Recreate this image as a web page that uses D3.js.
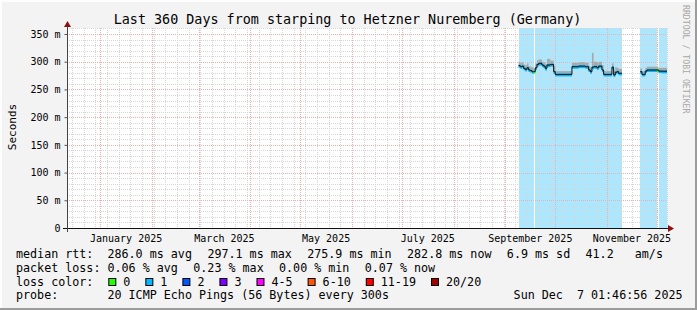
<!DOCTYPE html>
<html>
<head>
<meta charset="utf-8">
<script src="https://cdn.jsdelivr.net/npm/d3@7"></script>
<style>
  body { margin: 0; background: #f3f3f3; }
  svg { display: block; font-family: "DejaVu Sans Mono", monospace; }
  text { white-space: pre; }
</style>
</head>
<body>
<div id="chart"></div>
<script>
// samples: each value holds until the next date (null = no data)
const sampleDates = [
    "2025-09-09","2025-09-10","2025-09-11","2025-09-12","2025-09-13","2025-09-14","2025-09-15",
    "2025-09-16","2025-09-17","2025-09-18","2025-09-19","2025-09-20","2025-09-21","2025-09-23",
    "2025-09-24","2025-09-25","2025-09-26","2025-09-28","2025-09-30","2025-10-01","2025-10-11",
    "2025-10-15","2025-10-19","2025-10-21","2025-10-22","2025-10-23","2025-10-24","2025-10-26",
    "2025-10-27","2025-10-29","2025-10-30","2025-11-04","2025-11-05","2025-11-06","2025-11-07",
    "2025-11-08","2025-11-10","2025-11-21","2025-11-22","2025-11-24","2025-11-25","2025-12-01",
    "2025-12-02","2025-12-04"
];
const medianMs = [
    293,291,292,288,286,289,285,284,282,282,289,295,297,294,292,288,294,295,282,277,
    291,292,291,285,282,290,291,289,292,285,277,290,276,281,282,279,null,282,277,283,
    285,285,283,282.8
];
const smokeHighMs = [
    300,298,299,295,294,297,292,291,290,288,297,303,304,300,299,296,305,302,292,283,
    298,299,298,292,290,316,300,298,300,294,283,297,284,290,289,287,null,288,283,289,
    291,290,289,289
];
const smokeLowMs = [
    289,288,288,285,283,285,282,281,279,280,285,291,293,290,288,284,290,291,278,275,
    288,289,288,282,279,286,288,286,288,281,275,286,274,278,279,276,null,279,275,280,
    282,283,280,279
];
const lossPings = [
    1,1,1,1,1,1,1,1,1,0,1,1,1,1,1,1,1,1,1,1,
    1,1,1,1,1,1,1,1,1,1,1,1,1,1,1,1,null,1,1,1,
    1,0,1,1
];

const lossLabels = ["0", "1", "2", "3", "4-5", "6-10", "11-19", "20/20"];
const lossColors = ["#26ff00", "#00b8ff", "#0059ff", "#7e00ff", "#ff00ff", "#ff5500", "#ff0000", "#a10000"];

const yTickValues = [0, 50, 100, 150, 200, 250, 300, 350];

const rttStats = ["median rtt:  286.0 ms avg", "297.1 ms max", "275.9 ms min", "282.8 ms now", "6.9 ms sd", "41.2   am/s"];
const lossStats = ["packet loss: 0.06 % avg", "0.23 % max", "0.00 % min", "0.07 % now"];

const titleText = "Last 360 Days from starping to Hetzner Nuremberg (Germany)";
const probeText = "probe:       20 ICMP Echo Pings (56 Bytes) every 300s";
const stampText = "Sun Dec  7 01:46:56 2025";

const endTime = new Date(Date.UTC(2025, 11, 7, 0, 46, 56));
const startTime = d3.utcDay.offset(endTime, -360);

const width = 697, height = 310;
const plot = { left: 67, right: 667, top: 28, bottom: 228 };

const legendFont = 11.7;
const charW = legendFont * 0.602;
const itemGap = 15.3;

const parseDay = d3.utcParse("%Y-%m-%d");

const steps = sampleDates.map((d, i) => ({
    t0: parseDay(d),
    t1: i < sampleDates.length - 1 ? parseDay(sampleDates[i + 1]) : endTime,
    med: medianMs[i],
    lo: smokeLowMs[i],
    hi: smokeHighMs[i],
    loss: lossPings[i]
})).filter(d => d.med !== null);

const xScale = d3.scaleUtc()
    .domain([startTime, endTime])
    .range([plot.left, plot.right]);

const yScale = d3.scaleLinear()
    .domain([0, 360.8])
    .range([plot.bottom, plot.top]);

const svg = d3.select("#chart")
    .append("svg")
        .attr("width", width)
        .attr("height", height);

// frame
svg.append("rect")
    .attr("width", width)
    .attr("height", height)
    .attr("fill", "#f3f3f3");
svg.append("path")
    .attr("d", `M1,${height} V1 H${width}`)
    .attr("fill", "none")
    .attr("stroke", "#fdfdfd")
    .attr("stroke-width", 2);
svg.append("path")
    .attr("d", `M0,${height - 1} H${width - 1} V0`)
    .attr("fill", "none")
    .attr("stroke", "#9c9c9c")
    .attr("stroke-width", 2);

// plot area
svg.append("rect")
    .attr("x", plot.left)
    .attr("y", plot.top)
    .attr("width", plot.right - plot.left)
    .attr("height", plot.bottom - plot.top)
    .attr("fill", "white");

const inner = svg.append("g");

// loss background
inner.selectAll(".lossbg")
    .data(steps.filter(d => d.loss > 0))
    .join("rect")
        .attr("class", "lossbg")
        .attr("x", d => xScale(d.t0))
        .attr("y", plot.top)
        .attr("width", d => xScale(d.t1) - xScale(d.t0))
        .attr("height", plot.bottom - plot.top)
        .attr("fill", d => lossColors[d.loss])
        .attr("fill-opacity", 0.33)
        .attr("shape-rendering", "crispEdges");

// grid
const minorY = d3.range(10, 361, 10).filter(v => v % 50 !== 0);
const majorY = yTickValues.filter(v => v > 0);
const weeks = d3.utcSunday.range(startTime, endTime);
const months = d3.utcMonth.range(startTime, endTime);
const px = v => Math.round(v) + 0.5;

const drawHLines = (vals, color) => {
    inner.append("g")
        .selectAll("line")
        .data(vals)
        .join("line")
            .attr("x1", plot.left)
            .attr("x2", plot.right)
            .attr("y1", d => px(yScale(d)))
            .attr("y2", d => px(yScale(d)))
            .attr("stroke", color)
            .attr("stroke-dasharray", "1,1");
};
const drawVLines = (vals, color) => {
    inner.append("g")
        .selectAll("line")
        .data(vals)
        .join("line")
            .attr("x1", d => px(xScale(d)))
            .attr("x2", d => px(xScale(d)))
            .attr("y1", plot.top)
            .attr("y2", plot.bottom)
            .attr("stroke", color)
            .attr("stroke-dasharray", "1,1");
};
drawHLines(minorY, "#d6d6d6");
drawVLines(weeks, "#d6d6d6");
drawHLines(majorY, "#f4acac");
drawVLines(months, "#f4acac");

// smoke
inner.selectAll(".smoke")
    .data(steps)
    .join("rect")
        .attr("class", "smoke")
        .attr("x", d => xScale(d.t0))
        .attr("y", d => yScale(d.hi))
        .attr("width", d => xScale(d.t1) - xScale(d.t0))
        .attr("height", d => yScale(d.lo) - yScale(d.hi))
        .attr("fill", "#a9a9a9");

// median band coloured by loss
inner.selectAll(".medband")
    .data(steps)
    .join("rect")
        .attr("class", "medband")
        .attr("x", d => xScale(d.t0))
        .attr("y", d => yScale(d.med) - 1)
        .attr("width", d => xScale(d.t1) - xScale(d.t0))
        .attr("height", 3)
        .attr("fill", d => lossColors[d.loss]);

// median line, one path per contiguous run
const runs = [];
steps.forEach((d, i) => {
    if (i === 0 || +steps[i - 1].t1 !== +d.t0) runs.push([]);
    runs[runs.length - 1].push(d);
});
const medLine = d3.line()
    .x(d => xScale(d.t))
    .y(d => yScale(d.med))
    .curve(d3.curveStepAfter);

inner.selectAll(".medline")
    .data(runs)
    .join("path")
        .attr("class", "medline")
        .attr("d", run => medLine([
            ...run.map(d => ({ t: d.t0, med: d.med })),
            { t: run[run.length - 1].t1, med: run[run.length - 1].med }
        ]))
        .attr("fill", "none")
        .attr("stroke", "#111")
        .attr("stroke-width", 1);

// axes
const yAxis = d3.axisLeft(yScale)
    .tickValues(yTickValues)
    .tickFormat(d => d === 0 ? "0" : `${d} m`)
    .tickSize(3)
    .tickPadding(4);

const yAxisG = svg.append("g")
    .attr("transform", `translate(${plot.left + 0.5},0)`)
    .call(yAxis);
yAxisG.select(".domain").remove();
yAxisG.selectAll("line").attr("stroke", "#555");
yAxisG.selectAll("text")
    .attr("font-family", "DejaVu Sans Mono")
    .attr("font-size", 10)
    .attr("fill", "#000");

svg.append("line")
    .attr("x1", plot.left - 4)
    .attr("x2", plot.right + 2)
    .attr("y1", plot.bottom + 0.5)
    .attr("y2", plot.bottom + 0.5)
    .attr("stroke", "#111");
svg.append("line")
    .attr("x1", plot.left + 0.5)
    .attr("x2", plot.left + 0.5)
    .attr("y1", plot.bottom + 4)
    .attr("y2", plot.top - 2)
    .attr("stroke", "#444");
svg.append("path")
    .attr("d", `M${plot.right + 1},${plot.bottom - 3} L${plot.right + 7},${plot.bottom + 0.5} L${plot.right + 1},${plot.bottom + 4} Z`)
    .attr("fill", "#8c1010");
svg.append("path")
    .attr("d", `M${plot.left - 3},${plot.top - 1} L${plot.left + 0.5},${plot.top - 7} L${plot.left + 4},${plot.top - 1} Z`)
    .attr("fill", "#8c1010");

// month labels, centred on their month
const labelMonths = d3.utcMonth.every(2).range(startTime, endTime);
svg.append("g")
    .selectAll("text")
    .data(labelMonths)
    .join("text")
        .attr("x", d => (xScale(d) + xScale(d3.utcMonth.offset(d, 1))) / 2)
        .attr("y", 241.5)
        .attr("text-anchor", "middle")
        .attr("font-size", 10)
        .text(d => d3.utcFormat("%B %Y")(d));

// title and side texts
svg.append("text")
    .attr("x", 347.5)
    .attr("y", 24)
    .attr("text-anchor", "middle")
    .attr("font-size", 13.4)
    .text(titleText);

svg.append("text")
    .attr("transform", "translate(16,127) rotate(-90)")
    .attr("text-anchor", "middle")
    .attr("font-size", 11)
    .text("Seconds");

svg.append("text")
    .attr("transform", "translate(683,5) rotate(90)")
    .attr("font-size", 8.2)
    .attr("fill", "#a8a8a8")
    .text("RRDTOOL / TOBI OETIKER");

// legend rows
const legendRow = (items, y) => {
    let x = 16;
    const xs = items.map(s => {
        const at = x;
        x += s.length * charW + itemGap;
        return at;
    });
    svg.append("g")
        .selectAll("text")
        .data(items)
        .join("text")
            .attr("x", (d, i) => xs[i])
            .attr("y", y)
            .attr("font-size", legendFont)
            .text(d => d);
};
legendRow(rttStats, 258);
legendRow(lossStats, 271.8);

svg.append("text")
    .attr("x", 16)
    .attr("y", 285.6)
    .attr("font-size", legendFont)
    .text("loss color:");

let boxX = 108.3;
const boxXs = lossLabels.map(l => {
    const at = boxX;
    boxX += 30 + l.length * charW;
    return at;
});
const lossKey = svg.append("g")
    .selectAll("g")
    .data(lossLabels)
    .join("g")
        .attr("transform", (d, i) => `translate(${boxXs[i]},0)`);
lossKey.append("rect")
    .attr("x", 0.5)
    .attr("y", 278.5)
    .attr("width", 7)
    .attr("height", 7)
    .attr("fill", (d, i) => lossColors[i])
    .attr("stroke", "#000");
lossKey.append("text")
    .attr("x", 15)
    .attr("y", 285.6)
    .attr("font-size", legendFont)
    .text(d => d);

svg.append("text")
    .attr("x", 16)
    .attr("y", 299.4)
    .attr("font-size", legendFont)
    .text(probeText);
svg.append("text")
    .attr("x", 682.5)
    .attr("y", 299.4)
    .attr("text-anchor", "end")
    .attr("font-size", legendFont)
    .text(stampText);
</script>
</body>
</html>
